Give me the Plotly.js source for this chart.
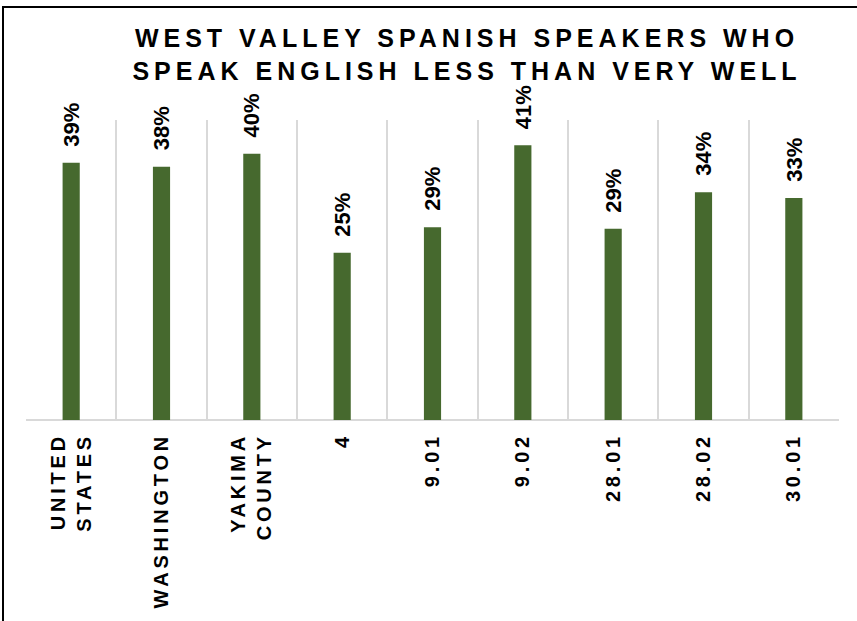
<!DOCTYPE html>
<html>
<head>
<meta charset="utf-8">
<script src="https://cdn.plot.ly/plotly-3.0.1.min.js"></script>
<style>
  html, body { margin: 0; padding: 0; background: #ffffff; }
  #chart { width: 857px; height: 621px; }
  .gtitle { letter-spacing: 5px; }
  .xtick text { letter-spacing: 3.8px; }
</style>
</head>
<body>
<div id="chart"></div>
<script>
const categories = ['UNITED<br>STATES', 'WASHINGTON', 'YAKIMA<br>COUNTY', '4', '9.01', '9.02', '28.01', '28.02', '30.01'];
const shareLessThanVeryWell = [0.386, 0.380, 0.3995, 0.251, 0.289, 0.412, 0.287, 0.3415, 0.333];
const chartTitle = 'WEST VALLEY SPANISH SPEAKERS WHO<br>SPEAK ENGLISH LESS THAN VERY WELL';

const barColor = '#46692e';
const fontFamily = '"Liberation Sans", Arial, sans-serif';

const trace = {
  type: 'bar',
  x: categories,
  y: shareLessThanVeryWell,
  marker: { color: barColor },
  hoverinfo: 'skip'
};

const annotations = shareLessThanVeryWell.map((v, i) => ({
  x: i,
  y: v,
  xref: 'x',
  yref: 'y',
  text: Math.round(v * 100) + '%',
  showarrow: false,
  textangle: -90,
  xanchor: 'center',
  yanchor: 'bottom',
  yshift: 14,
  font: { family: fontFamily, size: 22, color: '#000000', weight: 'bold' }
}));

const layout = {
  width: 857,
  height: 621,
  margin: { l: 26, r: 18, t: 120, b: 201 },
  paper_bgcolor: '#ffffff',
  plot_bgcolor: '#ffffff',
  showlegend: false,
  bargap: 0.81,
  title: {
    text: chartTitle,
    font: { family: fontFamily, size: 25, color: '#000000', weight: 'bold' },
    x: 467 / 857,
    xanchor: 'center',
    xref: 'container',
    y: 1 - 47 / 621,
    yanchor: 'top',
    yref: 'container'
  },
  xaxis: {
    type: 'category',
    tickson: 'boundaries',
    showgrid: true,
    gridcolor: '#d9d9d9',
    gridwidth: 2,
    showline: false,
    zeroline: false,
    ticks: '',
    tickangle: -90,
    ticklabelstandoff: 8,
    tickfont: { family: fontFamily, size: 20, color: '#000000', weight: 'bold' },
    automargin: false,
    fixedrange: true
  },
  yaxis: {
    range: [0, 0.45],
    showgrid: false,
    zeroline: false,
    showline: false,
    showticklabels: false,
    ticks: '',
    automargin: false,
    fixedrange: true
  },
  annotations: annotations,
  shapes: [{
    type: 'line',
    xref: 'paper',
    yref: 'paper',
    x0: 0, x1: 1, y0: 0, y1: 0,
    line: { color: '#d9d9d9', width: 2 },
    layer: 'below'
  }, {
    type: 'rect',
    xref: 'paper',
    yref: 'paper',
    x0: (3 - 26) / 813,
    x1: (880 - 26) / 813,
    y0: (420 - 660) / 300,
    y1: (420 - 7) / 300,
    line: { color: '#000000', width: 2 },
    fillcolor: 'rgba(0,0,0,0)',
    layer: 'above'
  }]
};

Plotly.newPlot('chart', [trace], layout, { displayModeBar: false, staticPlot: true });
</script>
</body>
</html>
